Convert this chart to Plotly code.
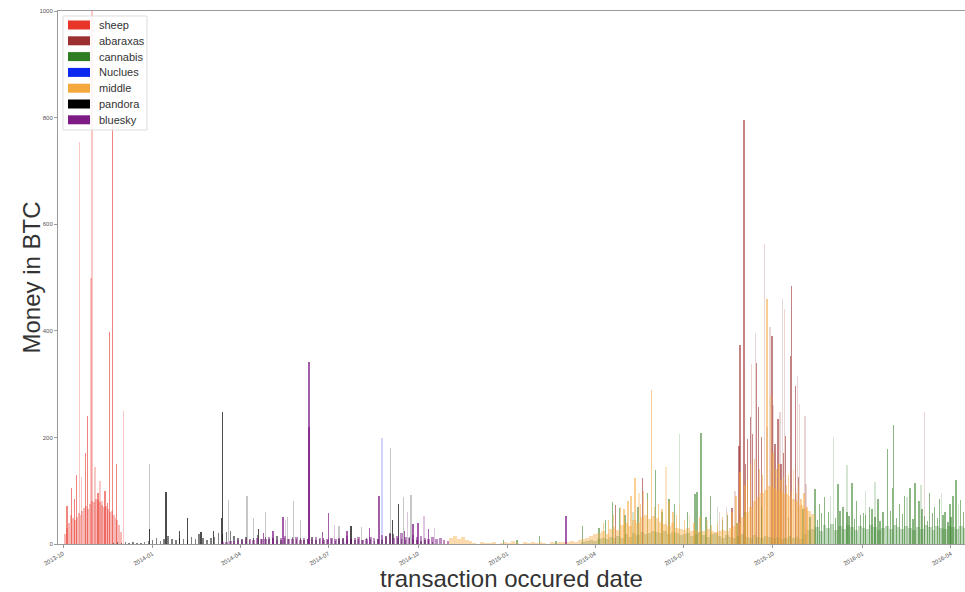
import pandas as pd
import plotly.graph_objects as go

# ---------------------------------------------------------------------------
# Market names (legend order) and their colours
# ---------------------------------------------------------------------------
markets = ["sheep", "abaraxas", "cannabis", "Nuclues", "middle", "pandora", "bluesky"]
colors = {
    "sheep": (232, 53, 42),
    "abaraxas": (156, 48, 48),
    "cannabis": (47, 125, 35),
    "Nuclues": (10, 40, 240),
    "middle": (245, 168, 60),
    "pandora": (0, 0, 0),
    "bluesky": (125, 26, 132),
}

# ---------------------------------------------------------------------------
# Background daily volume (BTC), one value every `step` days from `start`
# ---------------------------------------------------------------------------
sheep_start, sheep_step = "2013-10-03", 2
sheep_base = [18, 30, 40, 55, 48, 45, 50, 58, 55, 62, 68, 72, 66, 75, 80,
              78, 85, 82, 78, 74, 70, 72, 65, 60, 62, 55, 48, 45, 35, 22]

pandora_start, pandora_step = "2013-11-22", 4
pandora_base = [2, 3, 1, 4, 2, 3, 1, 2, 3, 5,
                8, 12, 6, 10, 15, 9, 7, 12, 10, 8, 14, 9, 18, 11, 8,
                12, 14, 20, 18, 22, 25, 15, 12,
                10, 14, 8, 12, 16, 10, 13, 9, 11, 15, 8, 12, 10, 14,
                9, 12, 8, 10, 14, 7, 9, 11, 8, 10, 6, 9, 12, 8, 10,
                8, 10, 7, 12, 9, 6, 10, 8, 15, 20, 18, 12, 10, 8, 14, 9, 7, 6, 8, 5, 4]

bluesky_start, bluesky_step = "2014-03-14", 4
bluesky_base = [3, 4, 5, 6, 8, 7, 10, 9, 8, 12,
                10, 9, 14, 12, 8, 11, 15, 10, 9, 13,
                8, 12, 10, 9, 14, 11, 8, 10, 12, 9,
                12, 10, 15, 9, 11, 13, 8, 10, 14, 12,
                10, 16, 13, 18, 12, 15, 20, 14, 11, 17,
                13, 15, 12, 10, 14, 9, 11, 8, 6]

middle_start, middle_step = "2014-11-04", 4
middle_base = [12, 15, 10, 14, 8, 5,
               2, 0, 3, 1, 2, 4, 0, 2, 3, 1, 5, 2, 0, 3, 2, 4, 1, 3, 2, 0, 3, 2, 4, 3,
               3, 5, 4, 8, 10, 12, 15, 18,
               20, 24, 18, 28, 32, 26, 36, 40, 34, 45, 40, 50, 55, 46, 52,
               48, 42, 38, 34, 40, 30, 28, 26, 30, 24, 26, 22, 24, 28, 25,
               22, 24, 26, 24, 30, 34, 40, 50, 60, 70, 80, 88, 95, 102, 108,
               106, 102, 98, 94, 90, 85, 80, 74, 68, 62, 56]

cannabis_start, cannabis_step = "2015-03-20", 4
cannabis_base = [3, 5, 8, 6, 10, 12, 9, 14, 11, 15, 12, 18, 14, 20, 16, 22, 18, 20, 24,
                 22, 20, 25, 18, 22, 20, 16, 18, 20, 15, 18, 22, 16, 14, 18, 20, 15, 12, 16, 14,
                 12, 15, 18, 14, 12, 16, 14, 12, 15, 13,
                 12, 14, 10, 12, 15, 11, 13, 10, 18, 26,
                 28, 32, 25, 35, 30, 38, 27, 33, 29, 36, 31, 26, 34, 30, 28, 35, 32, 27, 30, 33,
                 29, 36, 31, 28, 34, 30, 26, 32, 29, 35, 31, 27, 33, 30, 28, 34, 31, 29, 33, 30]

# ---------------------------------------------------------------------------
# Individual large transactions (BTC): dense ones and light ones
# ---------------------------------------------------------------------------
sheep_peak_dates = ["2013-10-05", "2013-10-10", "2013-10-13", "2013-10-15", "2013-10-24",
                    "2013-10-26", "2013-11-06", "2013-11-13", "2013-11-16", "2013-11-18",
                    "2013-11-21", "2013-11-25"]
sheep_peak_values = [72, 105, 85, 130, 170, 240, 95, 100, 76, 397, 790, 150]
sheep_light_dates = ["2013-10-18", "2013-10-20", "2013-10-30", "2013-10-31", "2013-11-03",
                     "2013-11-08", "2013-11-10", "2013-12-02"]
sheep_light_values = [755, 125, 500, 1050, 145, 118, 80, 250]

abaraxas_peak_dates = ["2015-04-22", "2015-05-20", "2015-08-20", "2015-08-27", "2015-08-28",
                       "2015-09-01", "2015-09-03", "2015-09-05", "2015-09-08", "2015-09-10",
                       "2015-09-14", "2015-09-16", "2015-09-19", "2015-09-30", "2015-10-03",
                       "2015-10-06", "2015-10-09", "2015-10-12", "2015-10-14", "2015-10-19",
                       "2015-10-20", "2015-10-24", "2015-10-27"]
abaraxas_peak_values = [73, 123, 68, 183, 374, 796, 150, 197, 239, 206, 340, 257, 200,
                        391, 188, 235, 150, 170, 203, 352, 484, 297, 125]
abaraxas_light_dates = ["2015-08-07", "2015-08-14", "2015-08-23", "2015-09-09", "2015-09-13",
                        "2015-09-22", "2015-09-25", "2015-09-28", "2015-10-01", "2015-10-08",
                        "2015-10-11", "2015-10-13", "2015-10-26", "2015-10-28", "2015-11-03",
                        "2015-11-04", "2016-03-05"]
abaraxas_light_values = [60, 70, 100, 337, 395, 563, 220, 407, 260, 247, 459, 441, 315,
                         263, 241, 113, 248]

cannabis_peak_dates = ["2014-12-28", "2015-01-11", "2015-02-03", "2015-02-20", "2015-03-19",
                       "2015-04-05", "2015-04-12", "2015-04-19", "2015-04-26", "2015-05-02",
                       "2015-05-15", "2015-05-25", "2015-06-02", "2015-06-09", "2015-06-16",
                       "2015-06-22", "2015-07-05", "2015-07-13", "2015-07-15", "2015-07-19",
                       "2015-07-24", "2015-07-29", "2015-08-10", "2015-08-15", "2015-08-25",
                       "2015-09-02", "2015-09-19", "2015-10-17", "2015-11-01", "2015-11-08",
                       "2015-11-13", "2015-11-16", "2015-11-18", "2015-11-20", "2015-11-23",
                       "2015-11-27", "2015-12-04", "2015-12-07", "2015-12-09", "2015-12-12",
                       "2015-12-16", "2015-12-18", "2015-12-21", "2015-12-24", "2015-12-26",
                       "2015-12-30", "2016-01-02", "2016-01-04", "2016-01-08", "2016-01-11",
                       "2016-01-14", "2016-01-17", "2016-01-19", "2016-01-22", "2016-01-27",
                       "2016-01-30", "2016-02-01", "2016-02-02", "2016-02-05", "2016-02-08",
                       "2016-02-11", "2016-02-13", "2016-02-19", "2016-02-22", "2016-02-24",
                       "2016-02-28", "2016-03-02", "2016-03-05", "2016-03-08", "2016-03-10",
                       "2016-03-13", "2016-03-15", "2016-03-18", "2016-03-20", "2016-03-24",
                       "2016-03-26", "2016-03-29", "2016-03-31", "2016-04-01", "2016-04-03",
                       "2016-04-06", "2016-04-11", "2016-04-14"]
cannabis_peak_values = [8, 8, 15, 6, 34,
                        30, 45, 78, 67, 55,
                        70, 95, 138, 60, 85,
                        75, 60, 94, 98, 208,
                        50, 91, 45, 55, 40,
                        60, 70, 50, 65, 50,
                        103, 45, 75, 58, 88,
                        60, 48, 113, 62, 70,
                        60, 52, 114, 47, 80,
                        55, 58, 55, 70, 65,
                        50, 85, 44, 60, 178,
                        62, 106, 223, 48, 75,
                        56, 90, 105, 46, 114,
                        80, 65, 52, 44, 95,
                        58, 70, 48, 85, 55,
                        60, 42, 75, 50, 90,
                        120, 83, 60]
cannabis_light_dates = ["2015-05-10", "2015-06-27", "2015-08-05", "2015-11-29", "2015-12-02",
                        "2015-12-16", "2016-01-04", "2016-01-14", "2016-02-16", "2016-03-01",
                        "2016-03-22", "2016-04-09"]
cannabis_light_values = [60, 206, 70, 90, 201, 148, 100, 117, 88, 110, 95, 75]

nuclues_dates = ["2014-07-17", "2014-07-31", "2014-08-10", "2014-08-25"]
nuclues_values = [4, 6, 5, 198]

middle_peak_dates = ["2015-04-10", "2015-04-15", "2015-04-20", "2015-04-27", "2015-05-01",
                     "2015-05-05", "2015-05-08", "2015-05-12", "2015-05-18", "2015-05-21",
                     "2015-05-25", "2015-05-29", "2015-06-01", "2015-06-05", "2015-06-09",
                     "2015-06-16", "2015-06-20", "2015-06-24", "2015-07-02", "2015-07-12",
                     "2015-07-18", "2015-07-30", "2015-08-05", "2015-08-10", "2015-08-20",
                     "2015-08-24", "2015-08-28", "2015-09-02", "2015-09-05", "2015-09-08",
                     "2015-09-12", "2015-09-17", "2015-09-20", "2015-09-25", "2015-10-01",
                     "2015-10-04", "2015-10-07", "2015-10-09", "2015-10-12", "2015-10-15",
                     "2015-10-17", "2015-10-20", "2015-10-25", "2015-10-27", "2015-10-30",
                     "2015-11-02", "2015-11-05"]
middle_peak_values = [40, 45, 55, 70, 65,
                      80, 90, 123, 75, 100,
                      85, 289, 70, 75, 65,
                      80, 60, 55, 45, 40,
                      50, 35, 40, 50, 60,
                      90, 135, 110, 120, 150,
                      160, 140, 130, 460, 170,
                      140, 150, 120, 125, 110,
                      130, 100, 95, 110, 85,
                      95, 70]
middle_light_dates = ["2015-05-16", "2015-06-13", "2015-06-27", "2015-07-07", "2015-07-25",
                      "2015-08-15", "2015-09-29", "2015-10-22"]
middle_light_values = [95, 144, 75, 55, 45, 60, 280, 140]

pandora_peak_dates = ["2013-12-29", "2014-01-15", "2014-01-29", "2014-02-06", "2014-02-20",
                      "2014-03-05", "2014-03-13", "2014-03-14", "2014-04-20", "2014-07-24",
                      "2014-09-05", "2014-09-11"]
pandora_peak_values = [28, 97, 25, 48, 22, 25, 48, 248, 29, 33, 45, 75]
pandora_light_dates = ["2013-12-29", "2014-03-20", "2014-04-08", "2014-04-15", "2014-04-27",
                       "2014-05-20", "2014-05-26", "2014-06-02", "2014-07-12", "2014-08-04",
                       "2014-09-03", "2014-09-16", "2014-09-24"]
pandora_light_values = [150, 83, 90, 48, 60, 50, 81, 45, 33, 31, 180, 88, 92]

bluesky_peak_dates = ["2014-04-25", "2014-05-05", "2014-05-15", "2014-06-11", "2014-06-11",
                      "2014-06-25", "2014-07-01", "2014-07-20", "2014-08-12", "2014-08-22",
                      "2014-09-17", "2014-09-26", "2014-10-01", "2014-10-12", "2015-03-02"]
bluesky_peak_values = [20, 25, 50, 341, 220, 22, 58, 24, 30, 90, 25, 38, 40, 28, 53]
bluesky_light_dates = ["2014-05-18", "2014-07-07", "2014-09-20", "2014-10-07", "2014-10-18"]
bluesky_light_values = [45, 35, 60, 53, 30]

DAY_MS = 86400000


def rgba(name, alpha):
    r, g, b = colors[name]
    return f"rgba({r},{g},{b},{alpha})"


def base_trace(name, start, step, values, alpha, width_days):
    dates = pd.date_range(start, periods=len(values), freq=f"{step}D")
    return go.Bar(x=dates, y=values, width=width_days * DAY_MS,
                  marker=dict(color=rgba(name, alpha), line=dict(width=0)),
                  showlegend=False, name=name, hoverinfo="skip")


def spike_trace(name, dates, values, alpha, width_days=1.5):
    return go.Bar(x=pd.to_datetime(dates), y=values, width=width_days * DAY_MS,
                  marker=dict(color=rgba(name, alpha), line=dict(width=0)),
                  showlegend=False, name=name)


fig = go.Figure()

# sheep
fig.add_trace(base_trace("sheep", sheep_start, sheep_step, sheep_base, 0.35, 2))
fig.add_trace(spike_trace("sheep", sheep_light_dates, sheep_light_values, 0.28))
fig.add_trace(spike_trace("sheep", sheep_peak_dates, sheep_peak_values, 0.6))
# abaraxas
fig.add_trace(spike_trace("abaraxas", abaraxas_light_dates, abaraxas_light_values, 0.2))
fig.add_trace(spike_trace("abaraxas", abaraxas_peak_dates, abaraxas_peak_values, 0.6))
# cannabis
fig.add_trace(base_trace("cannabis", cannabis_start, cannabis_step, cannabis_base, 0.3, 4))
fig.add_trace(spike_trace("cannabis", cannabis_light_dates, cannabis_light_values, 0.2))
fig.add_trace(spike_trace("cannabis", cannabis_peak_dates, cannabis_peak_values, 0.55))
# Nuclues
fig.add_trace(spike_trace("Nuclues", nuclues_dates, nuclues_values, 0.2))
# middle
fig.add_trace(base_trace("middle", middle_start, middle_step, middle_base, 0.42, 4))
fig.add_trace(spike_trace("middle", middle_light_dates, middle_light_values, 0.3))
fig.add_trace(spike_trace("middle", middle_peak_dates, middle_peak_values, 0.55))
# pandora
fig.add_trace(base_trace("pandora", pandora_start, pandora_step, pandora_base, 0.5, 1.5))
fig.add_trace(spike_trace("pandora", pandora_light_dates, pandora_light_values, 0.22))
fig.add_trace(spike_trace("pandora", pandora_peak_dates, pandora_peak_values, 0.7))
# bluesky
fig.add_trace(base_trace("bluesky", bluesky_start, bluesky_step, bluesky_base, 0.5, 2.5))
fig.add_trace(spike_trace("bluesky", bluesky_light_dates, bluesky_light_values, 0.25))
fig.add_trace(spike_trace("bluesky", bluesky_peak_dates, bluesky_peak_values, 0.7))

# ---------------------------------------------------------------------------
# Layout geometry (pixels) and a boxed legend in the upper-left corner
# ---------------------------------------------------------------------------
W, H = 965, 592
PLOT_L, PLOT_R, PLOT_T, PLOT_B = 58, 965, 11, 544


def px_x(px):
    return (px - PLOT_L) / (PLOT_R - PLOT_L)


def px_y(py):
    return 1 - (py - PLOT_T) / (PLOT_B - PLOT_T)


shapes, annotations = [], []
shapes.append(dict(type="rect", xref="paper", yref="paper", layer="above",
                   x0=px_x(63), x1=px_x(147), y0=px_y(130), y1=px_y(16),
                   fillcolor="rgba(255,255,255,0.8)", line=dict(color="#dddddd", width=1)))
for i, m in enumerate(markets):
    cy = 25 + 15.8 * i
    r, g, b = colors[m]
    shapes.append(dict(type="rect", xref="paper", yref="paper", layer="above",
                       x0=px_x(68), x1=px_x(90), y0=px_y(cy + 4.5), y1=px_y(cy - 4.5),
                       fillcolor=f"rgb({r},{g},{b})", line=dict(width=0)))
    annotations.append(dict(text=m, xref="paper", yref="paper", x=px_x(97), y=px_y(cy),
                            xanchor="left", yanchor="middle", showarrow=False,
                            font=dict(size=11, color="#333333")))

# y-axis title
annotations.append(dict(text="Money in BTC", xref="paper", yref="paper",
                        x=px_x(31), y=0.5, xanchor="center", yanchor="middle",
                        textangle=-90, showarrow=False, font=dict(size=24, color="#333333")))

axis_gray = "#9a9a9a"
tick_font = dict(family="Liberation Sans, Arial, sans-serif", size=6, color="#555555")

fig.update_layout(
    width=W, height=H,
    margin=dict(l=PLOT_L, r=W - PLOT_R, t=PLOT_T, b=H - PLOT_B),
    paper_bgcolor="white", plot_bgcolor="white",
    barmode="overlay", bargap=0,
    font=dict(family="Liberation Sans, Arial, sans-serif", color="#333333"),
    showlegend=False,
    shapes=shapes,
    annotations=annotations,
    xaxis=dict(
        type="date",
        range=["2013-09-25 20:40", "2016-04-15 10:00"],
        tick0="2013-10-01", dtick="M3", tickformat="%Y-%m", tickangle=-30,
        ticks="outside", ticklen=3, tickcolor=axis_gray, tickfont=tick_font,
        showgrid=False, zeroline=False,
        showline=True, linecolor=axis_gray, linewidth=1, mirror=True,
        title=dict(text="transaction occured date", font=dict(size=24, color="#333333"), standoff=4),
    ),
    yaxis=dict(
        range=[0, 1000], tickvals=[0, 200, 400, 600, 800, 1000],
        ticks="outside", ticklen=3, tickcolor=axis_gray, tickfont=tick_font,
        showgrid=False, zeroline=False,
        showline=True, linecolor=axis_gray, linewidth=1,
    ),
)

fig.write_html("out.html")
